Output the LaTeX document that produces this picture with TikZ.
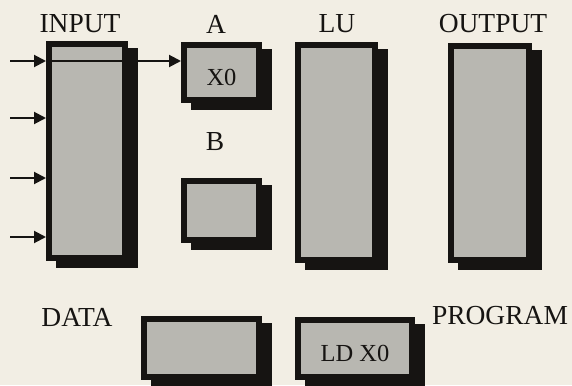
\documentclass[tikz,border=0pt]{standalone}
\usepackage{fontspec}
\setmainfont{Liberation Serif}
\usetikzlibrary{arrows.meta,shadows}
\definecolor{paper}{RGB}{242,238,228}
\definecolor{boxgray}{RGB}{184,183,177}
\definecolor{inkc}{RGB}{22,20,18}
\tikzset{
  frame/.style={draw=inkc, line width=6pt, fill=boxgray, inner sep=0pt,
    font=\fontsize{24.5}{26}\selectfont, text=inkc,
    drop shadow={shadow xshift=9.5pt, shadow yshift=-7pt, fill=inkc, draw=inkc, line width=6pt, opacity=1}},
  title/.style={font=\fontsize{27.5}{30}\selectfont, text=inkc, inner sep=0pt},
  arr/.style={draw=inkc, line width=2pt, -{Triangle[length=12pt,width=12pt]}}
}
\begin{document}
\begin{tikzpicture}[x=1pt,y=-1pt]
\fill[paper] (0,0) rectangle (572,385);
\useasboundingbox (0,0) rectangle (572,385);
% boxes
\node[frame, minimum width=76pt, minimum height=214pt] (INPUT) at (87,151) {};
\node[frame, minimum width=75pt, minimum height=55pt] (A) at (221.5,72.5) {\smash{\raisebox{-13.5pt}{X0}}};
\node[frame, minimum width=75pt, minimum height=59pt] (B) at (221.5,210.5) {};
\node[frame, minimum width=77pt, minimum height=215pt] (LU) at (336.5,152.5) {};
\node[frame, minimum width=78pt, minimum height=214pt] (OUTPUT) at (490,153) {};
\node[frame, minimum width=115pt, minimum height=58pt] (DATA) at (201.5,348) {};
\node[frame, minimum width=114pt, minimum height=57pt] (PROG) at (355,348.5) {\smash{\raisebox{-12.5pt}{LD X0}}};
% titles
\node[title] (tInput) at (80,24) {INPUT};
\node[title] (tA) at (216,24) {A};
\node[title] (tLU) at (337,24) {LU};
\node[title] (tOutput) at (493,24) {OUTPUT};
\node[title] (tB) at (215,142) {B};
\node[title] (tData) at (77,317) {DATA};
\node[title] (tProg) at (500,316) {PROGRAM};
% input arrows
\coordinate (i1) at (10,61);
\coordinate (i2) at (10,118);
\coordinate (i3) at (10,178);
\coordinate (i4) at (10,237);
\foreach \c in {i1,i2,i3,i4}
  \draw[arr] (\c) -- (INPUT.west |- \c);
\draw[arr] (INPUT.west |- i1) -- (A.west |- i1);
\end{tikzpicture}
\end{document}
